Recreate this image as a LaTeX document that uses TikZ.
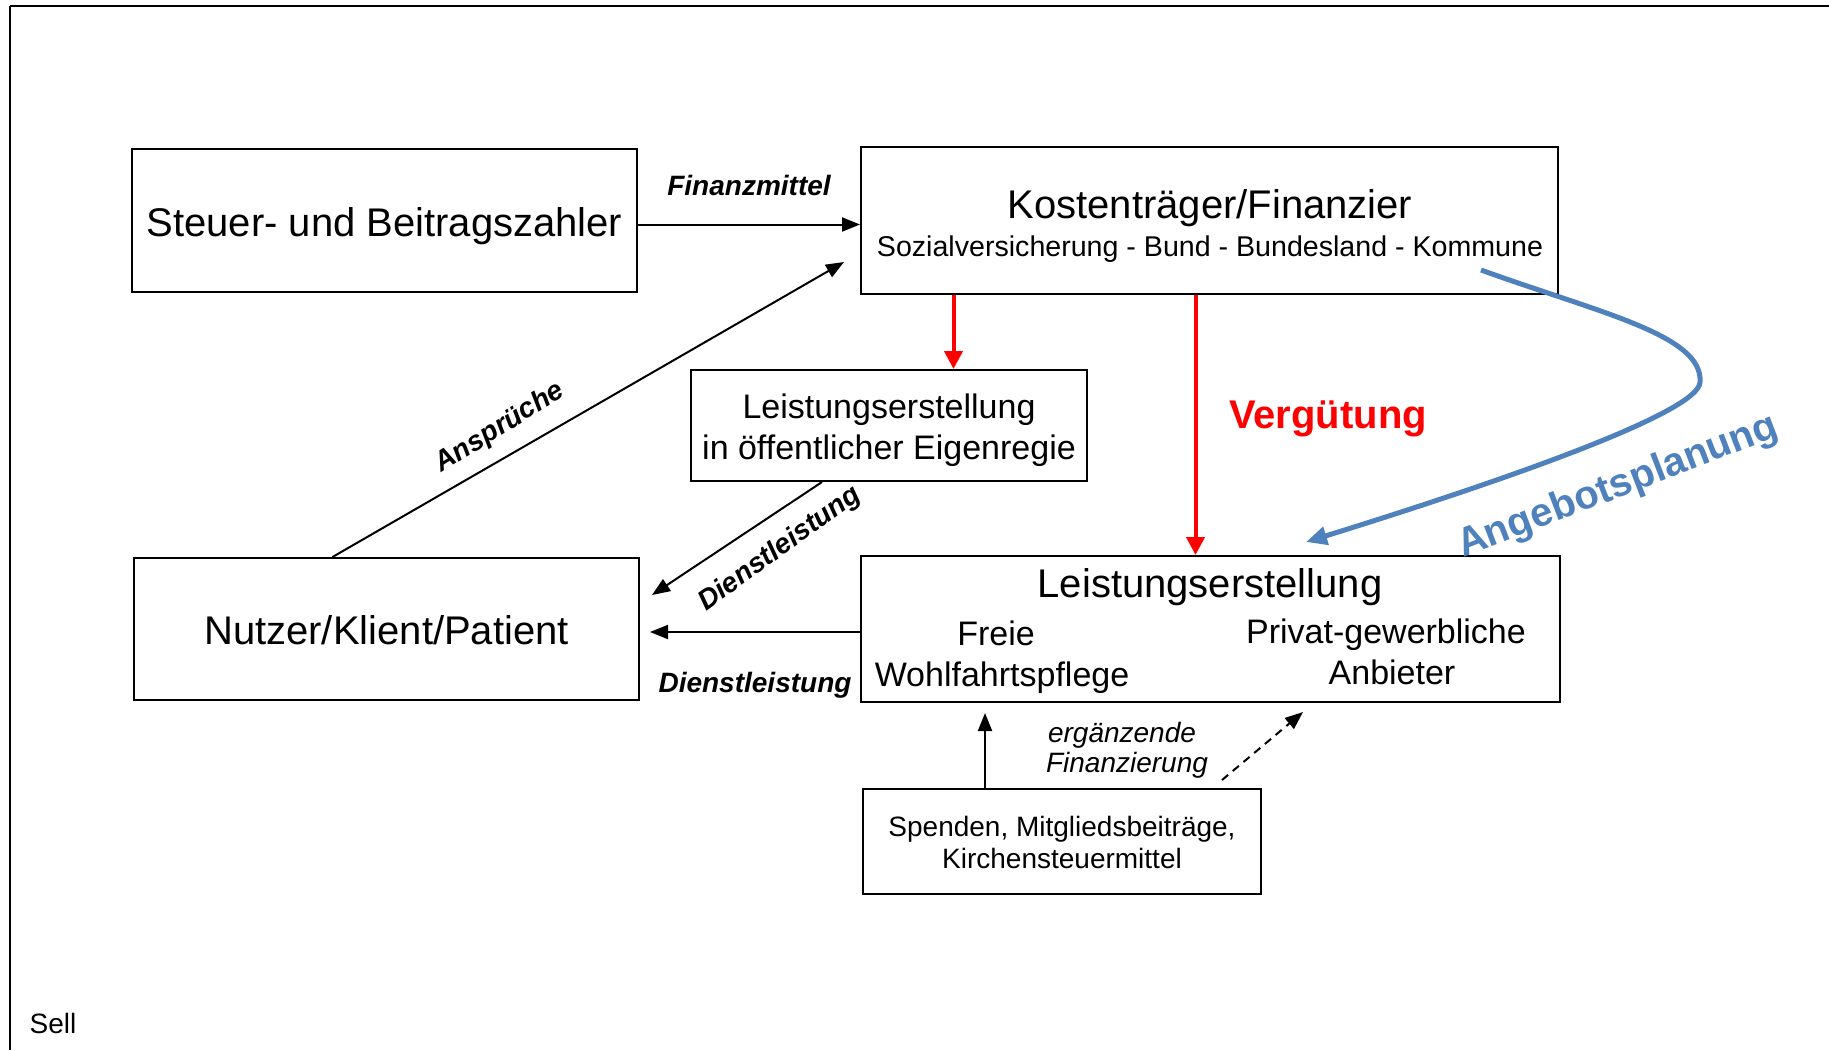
\documentclass[tikz,border=0pt]{standalone}
\usepackage{fontspec}
\setmainfont{Liberation Sans}
\usetikzlibrary{arrows.meta, positioning, calc}
\definecolor{planblau}{RGB}{79,129,189}
\definecolor{geldrot}{RGB}{255,0,0}

\tikzset{
  kasten/.style={draw, line width=1pt, inner sep=0pt},
  gross/.style={font=\fontsize{20}{24}\selectfont},
  mittel/.style={font=\fontsize{17}{20}\selectfont},
  klein/.style={font=\fontsize{14}{17}\selectfont},
  etikett/.style={font=\fontsize{14}{17}\selectfont\bfseries\itshape},
  fluss/.style={line width=1pt, -{Triangle[length=9pt,width=7pt]}},
  geld/.style={line width=2pt, draw=geldrot, -{Triangle[length=9pt,width=9pt]}},
  plan/.style={line width=2.5pt, draw=planblau, -{Triangle[length=10.5pt,width=9pt]}}
}

\begin{document}
\begin{tikzpicture}[x=0.5pt, y=-0.5pt]
\useasboundingbox (0,0) rectangle (1829,1050);
% Rahmen
\draw[line width=1pt] (10,1050) -- (10,6);
\draw[line width=1.4pt] (9.5,6) -- (1829,6);

% Kaesten
\node[kasten, minimum width=252.5pt, minimum height=71.5pt] (zahler) at (384.5,220.5) {};
\node[kasten, minimum width=348.5pt, minimum height=73.5pt] (kosten) at (1209.5,220.5) {};
\node[kasten, minimum width=198pt, minimum height=55.5pt] (eigen) at (889,425.5) {};
\node[kasten, minimum width=252.5pt, minimum height=71pt] (nutzer) at (386.5,629) {};
\node[kasten, minimum width=349.5pt, minimum height=73pt] (leistung) at (1210.5,629) {};
\node[kasten, minimum width=199pt, minimum height=52.5pt] (spenden) at (1062,841.5) {};

% Texte
\node[gross, anchor=base] (zahlerText) at (384.5,236) {Steuer- und Beitragszahler};
\node[gross, anchor=base] (kostenTitel) at (1210,218) {Kostenträger/Finanzier};
\node[font=\fontsize{14.3}{17}\selectfont, anchor=base] (kostenTraeger) at (1210,256) {Sozialversicherung - Bund - Bundesland - Kommune};
\node[mittel, anchor=base] (eigenText) at (889,418) {Leistungserstellung};
\node[mittel, anchor=base] (eigenRegie) at (889,459) {in öffentlicher Eigenregie};
\node[gross, anchor=base] (nutzerText) at (386.5,644) {Nutzer/Klient/Patient};
\node[gross, anchor=base] (leistungTitel) at (1210,597) {Leistungserstellung};
\node[mittel, anchor=base] (freie) at (996,645) {Freie};
\node[mittel, anchor=base] (wohlfahrt) at (1002,686) {Wohlfahrtspflege};
\node[mittel, anchor=base] (privat) at (1386,643) {Privat-gewerbliche};
\node[mittel, anchor=base] (anbieter) at (1392,684) {Anbieter};
\node[klein, anchor=base] (spendenText) at (1062,836) {Spenden, Mitgliedsbeiträge,};
\node[klein, anchor=base] (kirchenText) at (1062,868) {Kirchensteuermittel};

% Finanzmittel
\draw[fluss] ([yshift=-2pt]zahler.east) -- ([yshift=-2pt]kosten.west)
  node[etikett, midway, above=10.5pt] (finanzLabel) {Finanzmittel};

% Ansprueche
\coordinate (anspruchSpitze) at (844,262);
\draw[fluss] ($(nutzer.north)+(-54,0)$) -- (anspruchSpitze);
\node[etikett, rotate=32] (anspruchLabel) at (500,428) {Ansprüche};

% Verguetung
\coordinate (rotA) at ($(kosten.south)+(-256,0)$);
\coordinate (rotB) at ($(kosten.south)+(-14,0)$);
\draw[geld] (rotA) -- (rotA |- eigen.north);
\draw[geld] (rotB) -- (rotB |- leistung.north);
\node[font=\fontsize{20}{24}\selectfont\bfseries, text=geldrot, anchor=base] (verguetung) at (1328,428) {Vergütung};

% Dienstleistung
\coordinate (dienstStart) at ($(eigen.south)+(-67,0)$);
\coordinate (dienstSpitze) at (652,595);
\draw[fluss] (dienstStart) -- (dienstSpitze);
\node[etikett, rotate=36] (dienstLabel) at (780,549) {Dienstleistung};
\coordinate (nutzerSpitze) at ($(nutzer.east)+(10,3)$);
\draw[fluss] (leistung.west |- nutzerSpitze) -- (nutzerSpitze)
  node[etikett, midway, below=16.5pt] (dienstLabelB) {Dienstleistung};

% Angebotsplanung
\coordinate (planStart) at (1481,270);
\coordinate (planWende) at (1700,382);
\coordinate (planSpitze) at (1306,542);
\draw[plan] (planStart) .. controls (1600,313) and (1703,335) .. (planWende)
  .. controls (1700,412) and (1506,480) .. (planSpitze);
\node[font=\fontsize{20}{24}\selectfont\bfseries, text=planblau, rotate=21] (planLabel) at (1618,487) {Angebotsplanung};

% ergaenzende Finanzierung
\coordinate (spendeFuss) at ($(spenden.north)+(-77,0)$);
\coordinate (spendeSpitze) at ($(spendeFuss |- leistung.south)+(0,10)$);
\draw[fluss] (spendeFuss) -- (spendeSpitze);
\coordinate (ergStart) at (1222,780);
\coordinate (ergSpitze) at (1303,712);
\draw[fluss, dash pattern=on 4pt off 3pt] (ergStart) -- (ergSpitze);
\node[klein, font=\fontsize{14}{17}\selectfont\itshape, anchor=base] (ergaenzend) at (1122,742) {ergänzende};
\node[klein, font=\fontsize{14}{17}\selectfont\itshape, anchor=base] (finanzierung) at (1127,772) {Finanzierung};

\node[klein, anchor=base] (autor) at (53,1033) {Sell};
\end{tikzpicture}
\end{document}
